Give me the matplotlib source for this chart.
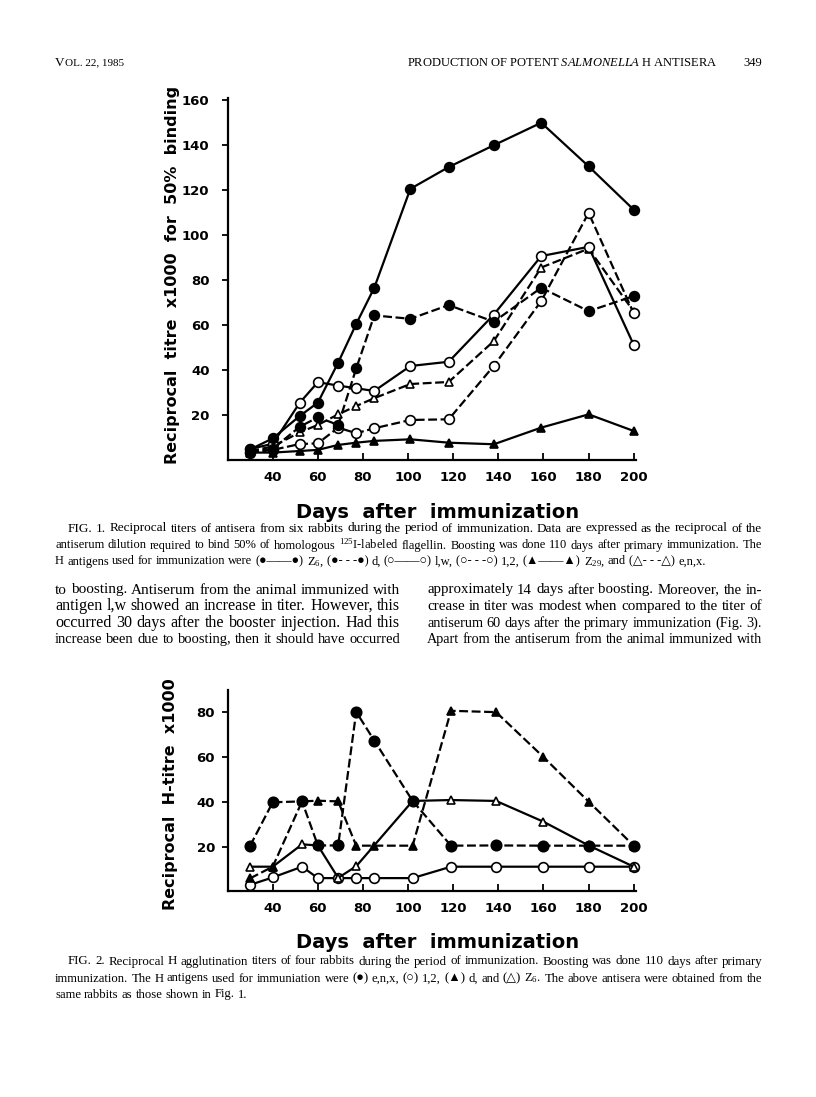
import matplotlib
matplotlib.use("Agg")
import matplotlib.pyplot as plt

plt.rcParams['mathtext.fontset'] = 'custom'
plt.rcParams['mathtext.rm'] = 'Liberation Serif'
plt.rcParams['mathtext.it'] = 'Liberation Serif:italic'

# ---- Fig. 1 data (reciprocal titre x1000 for 50% binding) ----
days1 = [30, 40, 52, 60, 69, 77, 85, 101, 118, 138, 159, 180, 200]
z6 = [4.7, 9.6, 19.6, 25.5, 43.3, 60.5, 76.6, 120.6, 130.3, 140, 150, 130.6, 111.3]
d = [3.5, 5, 14.8, 19, 15.6, 40.7, 64.3, 62.8, 68.9, 61.5, 76.6, 66.2, 72.9]
lw = [4.9, 7.2, 25.5, 34.6, 33.1, 31.9, 30.7, 41.8, 43.7, 64.7, 90.7, 94.8, 51.2]
one_two = [3.2, 4.5, 7.1, 7.4, 14.4, 11.9, 14.1, 17.8, 18.1, 41.9, 70.7, 109.9, 65.2]
z29 = [3.3, 3.3, 4.0, 4.5, 6.7, 7.7, 8.5, 9.2, 7.7, 7.0, 14.4, 20.3, 12.9]
enx = [4.0, 6.0, 12.3, 15.6, 20.3, 24.0, 27.5, 33.8, 34.7, 52.9, 85.6, 94.0, 66.0]

# ---- Fig. 2 data (reciprocal H-titre x1000) ----
days2 = [30, 40, 53, 60, 69, 77, 85, 102, 119, 139, 160, 180, 200]
enx2 = [20.4, 39.8, 40.2, 20.5, 20.5, 80.2, 67.4, 40.4, 20.4, 20.5, 20.4, 20.4, 20.4]
one_two2 = [2.9, 6.2, 11.0, 5.9, 5.9, 5.9, 5.9, 5.9, 11.0, 11.0, 11.0, 11.0, 11.0]
d2 = [5.8, 11.0, 40.2, 40.5, 40.2, 20.4, 20.4, 20.4, 80.7, 80.1, 60.0, 40.1, 20.4]
days2_z6 = [30, 40, 53, 60, 69, 77, 102, 119, 139, 160, 180, 200]
z6_2 = [11.0, 11.0, 21.0, 20.5, 6.0, 11.2, 40.4, 40.8, 40.4, 31.1, 20.5, 11.0]

xticks = [40, 60, 80, 100, 120, 140, 160, 180, 200]

W, H = 816, 1097
fig = plt.figure(figsize=(W / 100, H / 100), dpi=100)
rend = fig.canvas.get_renderer()
SERIF = ['Liberation Serif', 'DejaVu Sans']
SANS = 'DejaVu Sans'

solid = '-'
dashed = (0, (4, 1.6))


def style_axes(ax, ylim, yticks, xpad, ypad):
    ax.set_xlim(20, 201)
    ax.set_ylim(*ylim)
    ax.set_xticks(xticks)
    ax.set_yticks(yticks)
    for s in ['top', 'right']:
        ax.spines[s].set_visible(False)
    for s in ['left', 'bottom']:
        ax.spines[s].set_linewidth(1.6)
    ax.tick_params(axis='x', direction='in', length=5, width=1.3, pad=xpad)
    ax.tick_params(axis='y', direction='out', length=4, width=1.3, pad=ypad)
    for lab in ax.get_xticklabels() + ax.get_yticklabels():
        lab.set_fontfamily(SANS)
        lab.set_fontweight('bold')
        lab.set_fontsize(9.5)


def series(ax, x, y, ls, marker, filled, ms):
    ax.plot(x, y, linestyle=ls, color='black', lw=1.6, marker=marker, ms=ms,
            mfc='black' if filled else 'white', mec='black', mew=1.2,
            clip_on=False, zorder=3)


# ---------------- Fig. 1 ----------------
ax1 = fig.add_axes([227.6 / W, 1 - 460 / H, (636 - 227.6) / W, (460 - 98) / H])
series(ax1, days1, z29, solid, '^', True, 6)
series(ax1, days1, enx, dashed, '^', False, 5.5)
series(ax1, days1, one_two, dashed, 'o', False, 7)
series(ax1, days1, lw, solid, 'o', False, 7)
series(ax1, days1, d, dashed, 'o', True, 7)
series(ax1, days1, z6, solid, 'o', True, 7)
style_axes(ax1, (0, 161), [20, 40, 60, 80, 100, 120, 140, 160], 8, 9)

fig.text(172 / W, 1 - 275 / H, 'Reciprocal  titre  x1000  for  50%  binding',
         rotation=90, ha='center', va='center', family=SANS, weight='bold', fontsize=11.5)
fig.text(438 / W, 1 - 513 / H, 'Days  after  immunization', ha='center', va='center',
         family=SANS, weight='bold', fontsize=14)

# ---------------- Fig. 2 ----------------
ax2 = fig.add_axes([227.6 / W, 1 - 891.3 / H, (636 - 227.6) / W, (891.3 - 690) / H])
series(ax2, days2, one_two2, solid, 'o', False, 7)
series(ax2, days2_z6, z6_2, solid, '^', False, 6)
series(ax2, days2, d2, dashed, '^', True, 6)
series(ax2, days2, enx2, dashed, 'o', True, 7.5)
style_axes(ax2, (0, 90), [20, 40, 60, 80], 8, 5)

fig.text(170 / W, 1 - 794 / H, 'Reciprocal  H-titre  x1000',
         rotation=90, ha='center', va='center', family=SANS, weight='bold', fontsize=11.5)
fig.text(438 / W, 1 - 943 / H, 'Days  after  immunization', ha='center', va='center',
         family=SANS, weight='bold', fontsize=14)


# ---------------- text ----------------
def put_line(text, x0, x1, y, size, justify=True, fit=True):
    """Place a line word by word; fit font size to the measure, then justify."""
    words = text.split(' ')
    arts = [fig.text(0, 1 - y / H, w, fontsize=size, family=SERIF, va='baseline')
            for w in words]
    widths = [a.get_window_extent(renderer=rend).width for a in arts]
    space = size * 100 / 72 * 0.25
    if justify and fit and len(words) > 1:
        natural = sum(widths) + space * (len(words) - 1)
        new = min(size * (x1 - x0) / natural, size * 1.0)
        if abs(new - size) > 0.01:
            for a in arts:
                a.set_fontsize(new)
            widths = [a.get_window_extent(renderer=rend).width for a in arts]
            size = new
    if justify and len(words) > 1:
        gap = (x1 - x0 - sum(widths)) / (len(words) - 1)
    else:
        gap = size * 100 / 72 * 0.25
    x = x0
    for a, w in zip(arts, widths):
        a.set_x(x / W)
        x += w + gap
    return size


NB = '\u00a0'
cap1 = [
    "FIG. 1. Reciprocal titers of antisera from six rabbits during the period of immunization. Data are expressed as the reciprocal of the",
    "antiserum dilution required to bind 50% of homologous $^{125}$I-labeled flagellin. Boosting was done 110 days after primary immunization. The",
    "H antigens used for immunization were (●——●) Z$_6$, (●-" + NB + "-" + NB + "-●) d, (○——○) l,w, (○-" + NB + "-" + NB
    + "-○) 1,2, (▲——▲) Z$_{29}$, and (△-" + NB + "-" + NB + "-△) e,n,x.",
]
CAP = 9.8
put_line(cap1[0], 68, 762, 531.5, CAP)
s = put_line(cap1[1], 55, 762, 548.5, CAP)
put_line(cap1[2], 55, 762, 564.5, s, justify=False)

left_col = [
    "to boosting. Antiserum from the animal immunized with",
    "antigen l,w showed an increase in titer. However, this",
    "occurred 30 days after the booster injection. Had this",
    "increase been due to boosting, then it should have occurred",
]
right_col = [
    "approximately 14 days after boosting. Moreover, the in-",
    "crease in titer was modest when compared to the titer of",
    "antiserum 60 days after the primary immunization (Fig. 3).",
    "Apart from the antiserum from the animal immunized with",
]
for i, (a, b) in enumerate(zip(left_col, right_col)):
    yb = 593.5 + i * 16.6
    put_line(a, 55, 400, yb, 11.6)
    put_line(b, 427, 762, yb, 11.6)

cap2 = [
    "FIG. 2. Reciprocal H agglutination titers of four rabbits during the period of immunization. Boosting was done 110 days after primary",
    "immunization. The H antigens used for immuniation were (●) e,n,x, (○) 1,2, (▲) d, and (△) Z$_6$. The above antisera were obtained from the",
    "same rabbits as those shown in Fig. 1.",
]
put_line(cap2[0], 68, 762, 964.5, CAP)
s = put_line(cap2[1], 55, 762, 981.5, CAP)
put_line(cap2[2], 55, 762, 997.5, s, justify=False)

# running head
t = fig.text(55 / W, 1 - 65.5 / H, 'V', fontsize=9.5, family=SERIF, va='baseline')
wv = t.get_window_extent(renderer=rend).width
fig.text((55 + wv) / W, 1 - 65.5 / H, 'OL. 22, 1985', fontsize=8, family=SERIF, va='baseline')
fig.text(718 / W, 1 - 65.5 / H, 'PRODUCTION OF POTENT $\\it{SALMONELLA}$ H ANTISERA',
         fontsize=9, family=SERIF, ha='right', va='baseline')
fig.text(762 / W, 1 - 65.5 / H, '349', fontsize=9, family=SERIF, ha='right', va='baseline')

fig.savefig('out.png', dpi=100)
